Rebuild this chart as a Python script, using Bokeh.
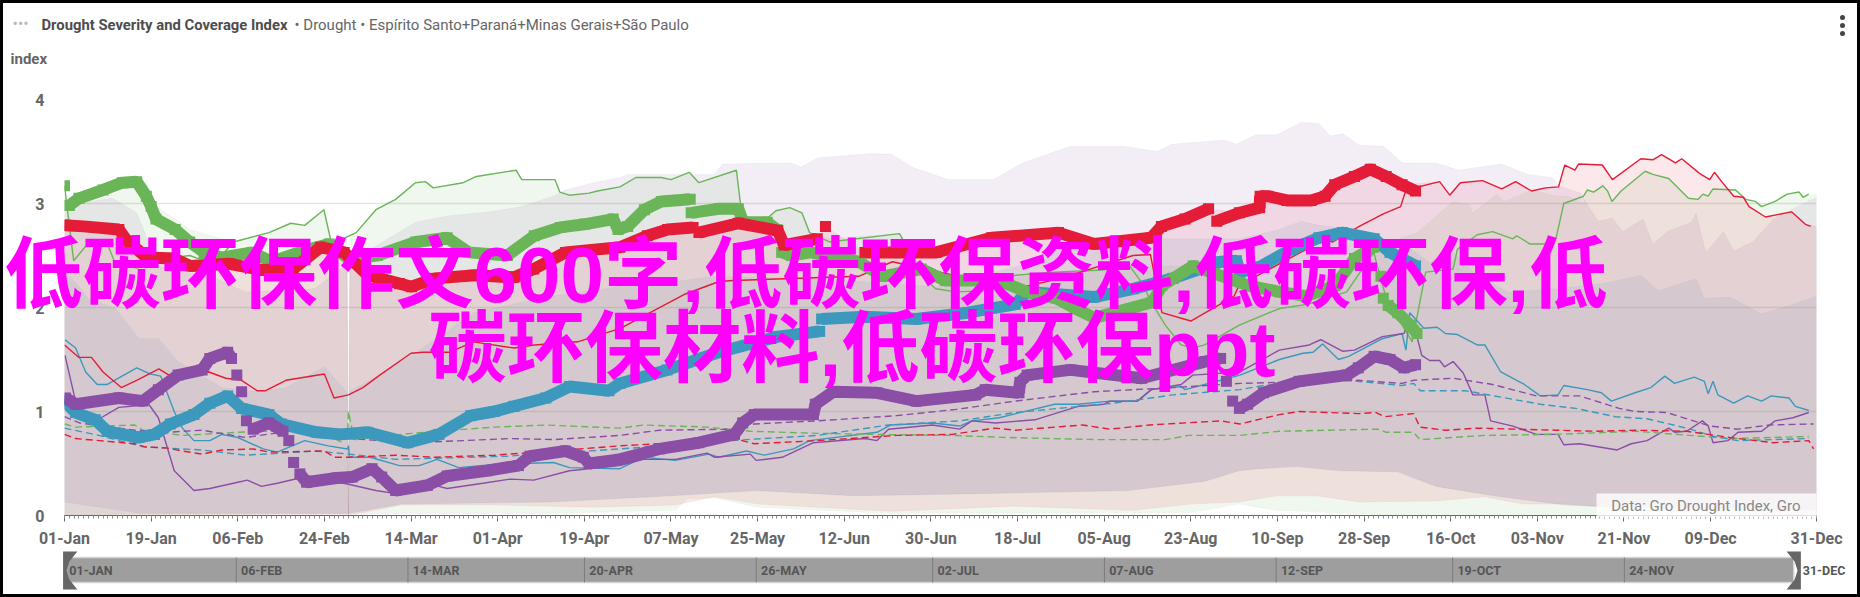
from bokeh.plotting import figure
from bokeh.models import FixedTicker, Range1d
from bokeh.core.properties import value
from bokeh.layouts import column
from bokeh.embed import file_html
from bokeh.resources import INLINE

nan = float("nan")

TITLE_BOLD = "Drought Severity and Coverage Index"
TITLE_REST = "• Drought • Espírito Santo+Paraná+Minas Gerais+São Paulo"
Y_TITLE = "index"
CREDIT = "Data: Gro Drought Index, Gro"
WATERMARK_1 = "低碳环保作文600字,低碳环保资料,低碳环保,低"
WATERMARK_2 = "碳环保材料,低碳环保ppt"

tick_days = [0, 18, 36, 54, 72, 90, 108, 126, 144, 162, 180, 198, 216, 234, 252, 270, 288, 306, 324, 342, 364]
tick_labels = ["01-Jan", "19-Jan", "06-Feb", "24-Feb", "14-Mar", "01-Apr", "19-Apr", "07-May", "25-May", "12-Jun", "30-Jun",
               "18-Jul", "05-Aug", "23-Aug", "10-Sep", "28-Sep", "16-Oct", "03-Nov", "21-Nov", "09-Dec", "31-Dec"]
nav_days = [0, 36, 72, 109, 145, 182, 218, 254, 291, 327]
nav_labels = ["01-JAN", "06-FEB", "14-MAR", "20-APR", "26-MAY", "02-JUL", "07-AUG", "12-SEP", "19-OCT", "24-NOV"]
nav_last = "31-DEC"

# thin solid (previous year)
green_x = [0,1.9,4.8,8.9,10.5,15,21,26,27.8,32.3,35.1,42.5,47,49.9,53.9,55.5,60.6,64.7,68.8,72.9,75,76.6,82.8,85.6,93.8,95,101.9,102.9,104.9,109,110.7,115.4,118.7,124,126,129.8,131.8,139.6,140.9,145.8,147.8,150.7,153.2,154.8,158.9,173.5,178.6,181,185.2,190.9,195.9,197.5,205.7,215.6,221.3,223.8,225.4,226.2,228.7,232,234.4,236.9,244.1,252.4,258.2,266.4,272,274.6,280,282.8,288.5,289.4,293.5,296.7,300.9,301.7,304.5,307.4,309.9,311.5,315.6,316.4,317.7,319.6,320.6,321.5,323.4,328.4,330,333.3,337.4,339.4,340.4,341.5,342.5,347.2,349.3,351.3,352.6,355.4,357.9,360.4,361.2,362.4]
green_y = [3.17,2.45,2.61,2.61,2.43,2.38,2.47,2.5,2.47,2.48,2.63,2.72,2.81,2.79,2.94,2.61,2.72,2.94,3.04,3.2,3.21,3.15,3.2,3.26,3.32,3.23,3.23,3.11,3.08,3.1,3.12,3.16,3.25,3.25,3.23,3.3,3.2,3.32,2.82,2.85,2.93,2.96,2.91,2.72,2.63,2.71,2.28,2.18,2.15,2.16,2.26,2.31,2.34,2.36,2.4,2.24,2.09,2.02,1.83,1.64,1.61,1.64,1.83,1.99,2.03,2.15,2.53,2.09,1.67,2.34,2.37,2.56,2.7,2.73,2.66,2.69,2.61,2.61,2.67,3.0,3.07,3.13,3.11,3.17,3.12,3.02,3.12,3.31,3.28,3.24,3.05,3.04,3.09,3.07,3.14,3.13,3.04,3.02,2.97,3.02,3.09,3.11,3.06,3.09]

red_x = [0,3,5.6,8,11.8,15,19.6,21.7,30,33.5,36.8,40,41.8,46,54,56,59,62,65.5,72,74.5,80,85,93.4,97.6,106.6,115.5,129,136,139,165,172,197.5,207,222,225.6,228,234,243,244,258,260.6,263.5,269,274,277.6,278.7,285.7,287.8,290,294.6,298.6,301.5,304.8,307.7,310.4,311.7,313.8,314.6,319.5,321.6,327.5,330,331.8,334.7,336,339.7,341.8,342.8,344.3,346.8,348.8,350,353.4,358.8,361.7,362.8]
red_y = [1.64,1.52,1.52,1.38,1.23,1.3,1.41,1.35,1.38,1.32,1.3,1.2,1.2,1.3,1.36,1.13,1.16,1.23,1.35,1.56,1.57,1.57,1.67,1.61,1.64,1.67,1.8,2.13,2.25,2.26,2.3,2.44,2.18,2.28,2.5,2.51,1.95,1.87,2.11,2.21,2.56,2.67,2.63,2.78,2.9,2.97,3.13,3.21,3.08,3.2,3.22,3.14,3.21,3.12,3.15,3.16,3.37,3.32,3.38,3.37,3.23,3.43,3.42,3.47,3.39,3.43,3.29,3.23,3.3,3.21,3.07,3.06,2.97,2.87,2.92,2.8,2.78]

blue_x = [0.1,2.3,4.4,6.8,8.9,15,17.9,20,22.8,24.5,26.9,30.2,32.7,36,41.3,44.2,49.9,54.8,58.8,59,59.2,63.5,69.6,73.7,77.4,81.9,89.3,101.6,104.9,115.4,120.3,126.9,133.9,135.9,141.7,145.4,151.5,154.8,168.8,171.6,180.3,186,188.5,194.2,205.7,210.6,217.2,222.9,225.8,232,232.8,240.2,244.2,252.4,257.3,259.4,261.4,264.7,266.8,273.8,277.9,278.7,279.5,282.4,285.2,286.9,289.4,293.5,295.1,298.4,303.3,306.6,310.3,311.5,316.4,319.3,321.4,326.3,329.6,332.5,334.5,338.6,340.7,341.5,342.5,343.5,346.8,349.7,352.6,354.6,358.3,359.6,362.4]
blue_y = [1.69,1.61,1.38,1.26,1.26,1.42,1.36,1.34,1.0,.84,.72,.72,.78,.75,.64,.61,.72,.67,.64,.67,.56,.56,.48,.48,.54,.46,.49,.51,.46,.45,.56,.53,.59,.56,.62,.58,.64,.72,.8,.87,.89,.86,.91,.94,1.07,1.07,1.1,1.1,1.21,1.24,1.21,1.3,1.35,1.5,1.56,1.57,1.65,1.5,1.53,1.7,1.75,1.59,1.95,1.8,1.81,1.75,1.74,1.64,1.64,1.38,1.26,1.15,1.16,1.25,1.21,1.18,1.1,1.18,1.23,1.34,1.27,1.33,1.29,1.17,1.29,1.16,1.08,1.15,1.1,1.15,1.13,1.05,1.01]

purple_x = [0.1,2.3,3.9,6,7.6,11.3,13.8,17.5,19.5,22.8,26.9,30.2,36,38,40.9,44.2,50.7,59,64.7,68.8,77,79.5,86.9,92.6,97.5,104.9,115.4,120.3,126.9,133.5,135.1,142.5,143.7,149.1,155.6,166.3,168.8,171.2,180.3,186,188.5,193.4,201.6,210.6,216,217.2,222.9,225.8,232,234.4,244.2,252.4,258.6,261,265.5,268,273.8,278.3,279.5,280.7,282,283.6,285.7,286.7,288.5,290.6,292.6,295.1,296.3,300.9,305.8,310.3,311.5,314.8,322.6,325.5,328.8,333.3,334.5,337,340.3,341.5,342.5,345.6,347.7,352.6,355.4,359.1,362.4]
purple_y = [1.54,1.1,.99,.94,.94,1.04,1.05,1.07,.94,.43,.24,.26,.32,.34,.28,.31,.38,.3,.24,.21,.29,.26,.31,.35,.34,.43,.48,.54,.54,.6,.56,.59,.53,.56,.7,.74,.72,.83,.87,.83,.91,.89,.92,1.05,1.07,1.1,1.1,1.21,1.26,1.35,1.38,1.59,1.64,1.69,1.58,1.59,1.72,1.75,1.89,1.77,1.54,1.49,1.49,1.43,1.48,1.37,1.16,1.16,.91,.86,.78,.78,.68,.69,.63,.69,.72,.84,.8,.81,.91,.86,.7,.72,.8,.81,.91,.94,.99]

# dashed (average)
red_dash_x = [0,2.3,7.2,14.6,16.7,21.2,24.5,28.6,32.7,39.2,42.5,54,56.1,59,68.8,77,89.3,101.6,115.4,140,143.3,156.4,172.9,184.4,193.4,197.5,211.5,217.2,225.4,240.2,244.2,252.4,256.5,268.8,272.5,274.2,280.3,281.6,286.9,293.5,309.9,318.1,326.3,337,346,355,362.4,363.4]
red_dash_y = [.78,.74,.72,.69,.66,.65,.62,.59,.63,.64,.61,.62,.56,.56,.58,.56,.58,.62,.67,.73,.69,.72,.77,.78,.84,.82,.87,.83,.87,.91,.88,.97,1.0,.98,.99,.95,.98,.85,.82,.84,.82,.81,.82,.81,.75,.7,.72,.64]
green_dash_x = [0,2.3,14.6,16.3,24.5,40,53.2,57.3,58.8,59,60.2,72.1,89.3,100,115.4,120.3,133.5,142.5,156.4,167.9,184.4,195.9,213.9,228.7,233.6,244.2,252.4,272.9,274.6,280.3,281.6,295.1,309.9,326.3,337.8,346.8,362.4]
green_dash_y = [.88,.85,.87,.82,.77,.81,.81,.71,.74,1.0,.73,.79,.85,.87,.84,.87,.85,.81,.79,.78,.77,.75,.73,.73,.77,.77,.81,.83,.8,.8,.73,.77,.78,.81,.77,.74,.76]
blue_dash_x = [0,7.2,16.3,28.6,37.6,52.4,59,68.8,91.8,115.4,141.7,156.4,171.2,186,197.5,218,230.3,244.2,249.1,266.4,277.9,280.3,281.7,291,306.6,314,322.2,328.8,337,342.7,347.6,362.4]
blue_dash_y = [.84,.77,.66,.63,.58,.62,.59,.54,.57,.64,.73,.77,.87,.91,.99,1.08,1.16,1.21,1.25,1.3,1.25,1.27,1.2,1.2,1.07,1.03,.95,.93,.84,.76,.72,.74]
purple_dash_x = [0,3.1,14.6,21.2,28.6,37.6,46.6,59,72.1,82.8,92.6,101.6,115.4,123.6,138.4,143.3,156.4,172.9,185.2,197.5,213.9,230.3,244.2,252.4,268.8,277.9,280.3,288.5,296.7,305.8,314.8,323,326.3,332.9,341.9,347.6,354.2,363.4]
purple_dash_y = [.95,.89,.82,.8,.82,.75,.81,.74,.7,.72,.74,.73,.77,.82,.83,.88,.91,.96,1.02,1.1,1.19,1.23,1.27,1.28,1.3,1.27,1.3,1.32,1.26,1.15,1.15,1.03,1.0,.99,.86,.83,.87,.88]

# thick (current year)
green_cur_x = [0,0.5,1,3,8,12,15,17,18,19,23,26,29,32.6,39,43,50.7,55,59,65,73,79.5,84,92,97.6,103,108,114,115,117,120.5,124,130,130.1,130.2,136,140,141,146,148,148.5,149,151,155,165,170,178,183,194,200,206,210,214,226,228,234.5,246,252.5,258,264,268,272,272.5,273.5,273.7,274,274.5,275,277,279.6,281]
green_cur_y = [3.17,nan,2.98,3.05,3.13,3.2,3.21,3.07,2.97,2.85,2.75,2.63,2.53,2.48,2.53,2.44,2.56,2.61,2.47,2.5,2.63,2.67,2.53,2.5,2.69,2.77,2.8,2.85,2.75,2.78,2.94,3.02,3.04,nan,2.91,2.95,2.95,2.82,2.82,2.75,nan,2.53,2.5,2.53,2.44,2.3,2.37,2.26,2.26,2.15,2.09,1.99,1.9,2.05,2.21,2.4,2.21,2.15,2.11,2.21,2.47,2.58,nan,2.3,nan,2.09,nan,2.02,1.95,1.83,1.75]

red_cur_x = [0,4,11.3,13,17.1,22.8,26.1,34.3,40.9,47.5,53.2,58.1,63,69.6,72.1,77,85.2,93.4,97.5,104.1,115.4,121.1,125.3,130.6,131.2,131.8,140,148.2,149.5,156.4,157.2,158.1,158.8,166.3,181.1,192.6,206.5,213.9,225.8,227.9,232.8,237.7,238.5,239.4,244.1,248.3,248.4,250,254,259,261.9,263.9,268,271.3,274.6,277.9,280.7]
red_cur_y = [2.79,2.78,2.75,2.64,2.48,2.47,2.4,2.42,2.36,2.37,2.58,2.53,2.31,2.23,2.2,2.28,2.31,2.29,2.37,2.53,2.58,2.69,2.75,2.77,nan,2.72,2.81,2.74,2.6,2.66,nan,2.78,nan,2.53,2.53,2.67,2.72,2.61,2.67,2.78,2.85,2.95,nan,2.83,2.91,2.96,3.07,3.07,3.03,3.03,3.07,3.18,3.26,3.33,3.26,3.18,3.12]

blue_cur_x = [0,2.3,6.4,8.9,15.4,18.7,22,26.9,30.2,33.9,36.8,42.5,45,52.4,57.3,63,71.3,77.8,84.4,89.3,93.4,100,104.9,113.1,115.4,125.2,135.9,148.2,156.9,157.1,157.3,166.3,177,187.6,197.5,200,213.9,222.1,230.3,240.2,243.5,244.2,248.3,254.9,260.6,265.5,272.1,275.4,280.7]
blue_cur_y = [1.1,.99,.92,.81,.75,.78,.88,.97,1.08,1.15,1.03,.97,.88,.8,.78,.8,.7,.78,.96,1.0,1.05,1.13,1.24,1.2,1.27,1.4,1.57,1.72,1.77,nan,1.89,1.91,1.89,1.95,2.03,2.15,2.1,2.18,2.28,2.44,2.45,2.34,2.39,2.56,2.67,2.72,2.66,2.53,2.4]

purple_cur_x = [0.2,2.3,11.3,16.3,19.5,23.6,28.6,30.2,33.9,34.7,35.2,35.8,36.3,36.8,37.3,37.8,38.5,39.2,42.5,45.4,46,46.6,47.1,47.6,48.2,48.9,50.3,56.5,59.8,63.9,65.9,68.8,75.4,79.5,87.7,94.3,96.7,104.1,107.8,109,115.4,123.6,131.8,139.2,140.9,143.3,155.6,156,159.7,168.8,177,189.3,191.3,198.3,198.5,200,209,223.8,236.9,240.2,240.8,241.4,242,242.7,243.4,244.1,245.8,249.1,256.5,266.4,268.8,272.1,275.4,278.3,280.7]
purple_cur_y = [1.13,1.07,1.13,1.1,1.21,1.35,1.4,1.51,1.57,1.51,nan,1.35,nan,1.19,nan,.91,nan,.83,.89,.81,nan,.72,nan,.51,nan,.4,.32,.36,.37,.45,.37,.24,.29,.38,.43,.48,.57,.62,.56,.5,.54,.64,.7,.78,.89,.97,.97,1.07,1.19,1.18,1.1,1.16,1.21,1.18,1.28,1.35,1.4,1.32,1.48,1.51,nan,1.29,nan,1.1,nan,1.03,1.07,1.18,1.29,1.35,1.42,1.53,1.5,1.42,1.45]

# range bands
band_purple_x = [0,10,15,19.5,32,37.6,52,58,58.7,59,59.3,64.6,73,79.5,88.5,95,101.6,104,110,115.5,117,135,136.7,151,153,156.6,168,172,176,183.6,193,199,209,220,227,230,241,243.5,247.5,252,257,260.6,263,265.6,269,274,278,285,289.6,298.6,304,309,311,315,316.6,318.7,321.6,323.7,328,330,333,338,339,341,344.7,346.8,351,355,359.6,364]
band_purple_y = [2.98,3.05,2.91,2.4,2.27,2.15,2.18,2.4,2.42,0,2.43,2.59,2.82,2.88,2.92,2.97,3.07,3.13,3.2,3.25,3.28,3.28,3.38,3.39,3.35,3.44,3.48,3.47,3.35,3.23,3.23,3.39,3.55,3.55,3.5,3.57,3.61,3.57,3.66,3.66,3.78,3.77,3.65,3.67,3.56,3.55,3.39,3.39,3.32,3.38,3.28,3.25,3.16,3.1,2.97,2.83,2.86,2.73,2.85,2.61,2.73,2.82,2.91,2.53,2.73,2.54,2.64,2.85,2.96,3.06]
band_purple_low_x = [0,16,59,70,101,126,144,164,189,221,237,244,248,256,265,277,285,297,312,318,364]
band_purple_low_y = [.13,.02,.02,.11,.13,.19,.24,.19,.21,.24,.33,.43,.45,.47,.43,.42,.28,.19,.1,.09,.05]

band_blue_x = [0,3.1,4.8,10.6,15.5,19.6,23.6,32.7,40,46,54,58.7,59,59.3,65.5,73,85,100,115,120.3,135,156.4,181,198.3,212.3,226.2,244.2,252.4,256.9,260.6,268,273.8,278.7,283.6,288.5,293.5,300,309.9,319.7,327.5,331.2,339,340.7,346,352.6,359.1,364]
band_blue_y = [2.35,2.2,2.09,1.99,1.7,1.7,1.48,1.23,1.19,1.23,1.43,1.19,0,1.2,1.35,1.57,1.95,2.1,2.2,2.21,2.3,2.28,2.2,2.4,2.66,2.66,2.66,2.75,2.83,2.79,2.75,2.66,2.6,2.43,2.53,2.31,2.15,2.18,2.23,2.31,2.16,2.28,2.09,2.1,1.94,2.03,2.11]
band_blue_low_x = [0,16,59,70,101,126,144,164,189,221,237,244,248,256,265,277,285,297,312,318,364]
band_blue_low_y = [0,.02,.02,.11,.13,.19,.24,.19,.21,.24,.33,.43,.45,.47,.43,.42,.28,.19,.1,.09,.05]

band_red_x = [0,4,11.3,13,17.1,22.8,26.1,34.3,40.9,47.5,53.2,58.1,58.7,59,59.3,63,69.6,72.1,77,85.2,93.4,97.5,104.1,115.4,125.3,130.6,140,148.2,149.5,156.4,158.1,166.3,181.1,192.6,206.5,213.9,225.8,232.8,237.7,244.1,250,259,263.9,268,271.3,274.6,277.9,285.7,287.8,290,294.6,298.6,301.5,304.8,307.7,310.4,311.7,313.8,314.6,319.5,321.6,327.5,330,331.8,334.7,336,339.7,341.8,342.8,344.3,346.8,348.8,350,353.4,358.8,361.7,364]
band_red_y = [2.79,2.78,2.75,2.64,2.48,2.47,2.4,2.42,2.36,2.37,2.58,2.53,2.52,0,2.5,2.31,2.23,2.2,2.28,2.31,2.29,2.37,2.53,2.58,2.75,2.77,2.81,2.74,2.6,2.66,2.78,2.53,2.53,2.67,2.72,2.61,2.67,2.85,2.95,2.91,3.07,3.03,3.18,3.26,3.33,3.26,3.18,3.21,3.08,3.2,3.22,3.14,3.21,3.12,3.15,3.16,3.37,3.32,3.38,3.37,3.23,3.43,3.42,3.47,3.39,3.43,3.29,3.23,3.3,3.21,3.07,3.06,2.97,2.87,2.92,2.8,2.78]
band_red_low_x = [0,59,70,90,110,127,135,144,172,197,222,234,244,252,260,269,285,295,303,312,330,364]
band_red_low_y = [0,0,.1,.1,.08,.1,.18,.11,.04,.09,.05,.11,.13,.19,.19,.13,.14,.18,.11,.11,.04,0]

band_green_x = [0,1,8,12,15,17,18,19,23,26,35.1,42.5,47,49.9,53.9,55.5,58.7,59,59.3,60.6,64.7,68.8,72.9,75,76.6,82.8,85.6,93.8,95,101.9,102.9,104.9,109,110.7,115.4,118.7,124,126,129.8,131.8,139.6,140.9,145.8,147.8,150.7,153.2,154.8,158.9,173.5,178.6,183,194,206,214,226,234.5,246,258,268,272,281.1,288.5,291.8,292.6,297.6,299.2,305,309.9,312.3,315.6,316.4,317.7,319.6,320.6,321.5,323.4,328.4,330,333.3,337.4,339.4,340.4,341.5,342.5,347.2,349.3,351.3,352.6,355.4,357.9,360.4,361.2,364]
band_green_y = [3.17,2.98,3.05,3.13,3.2,3.21,3.07,2.97,2.85,2.75,2.63,2.72,2.81,2.79,2.94,2.61,2.68,0,2.7,2.72,2.94,3.04,3.2,3.21,3.15,3.2,3.26,3.32,3.23,3.23,3.11,3.08,3.1,3.12,3.16,3.25,3.25,3.23,3.3,3.2,3.32,2.82,2.85,2.93,2.96,2.91,2.72,2.66,2.71,2.37,2.26,2.26,2.34,2.36,2.4,2.4,2.21,2.11,2.47,2.58,2.72,3.02,2.99,2.91,3.09,3.02,3.13,3.07,3.07,3.0,3.13,3.11,3.17,3.12,3.02,3.12,3.31,3.28,3.24,3.05,3.04,3.09,3.07,3.14,3.13,3.04,3.02,2.97,3.02,3.09,3.11,3.06,3.09]
band_green_low_x = [0,70,100,127,129.5,135,144,172,234,244,252,277,364]
band_green_low_y = [0,.02,.02,.05,.16,.17,.08,.02,.03,.11,.05,0,0]

GREEN, RED, BLUE, PURPLE = "#6ab558", "#e41c38", "#3c98bc", "#8b4ea6"
W = 1860
H = 597
H_MAIN = 550
H_NAV = H - H_MAIN
ROBOTO = "Roboto"

p = figure(width=W, height=H_MAIN, output_backend="svg", toolbar_location=None, frame_align=False,
           x_range=Range1d(0, 364), y_range=Range1d(0, 4),
           min_border_left=64, min_border_right=44, min_border_top=99, min_border_bottom=0)
p.outline_line_color = None
p.xgrid.visible = False
p.ygrid.ticker = FixedTicker(ticks=[0, 1, 2, 3, 4])
p.ygrid.grid_line_color = "#e4e4e4"
p.ygrid.grid_line_width = 1.5

p.yaxis.ticker = FixedTicker(ticks=[0, 1, 2, 3, 4])
p.yaxis.axis_line_color = None
p.yaxis.major_tick_line_color = None
p.yaxis.minor_tick_line_color = None
p.yaxis.major_label_standoff = 14
p.yaxis.major_label_text_font = ROBOTO
p.yaxis.major_label_text_font_size = "16px"
p.yaxis.major_label_text_font_style = "bold"
p.yaxis.major_label_text_color = "#666666"

p.xaxis.ticker = FixedTicker(ticks=tick_days, minor_ticks=list(range(0, 365)))
p.xaxis.major_label_overrides = dict(zip(tick_days, tick_labels))
p.xaxis.axis_line_color = "#666666"
p.xaxis.major_tick_line_color = "#666666"
p.xaxis.minor_tick_line_color = "#888888"
p.xaxis.major_tick_in = 0
p.xaxis.major_tick_out = 6
p.xaxis.minor_tick_in = 0
p.xaxis.minor_tick_out = 3
p.xaxis.major_label_standoff = 7
p.xaxis.major_label_text_font = ROBOTO
p.xaxis.major_label_text_font_size = "16px"
p.xaxis.major_label_text_font_style = "bold"
p.xaxis.major_label_text_color = "#666666"

bands = [(band_purple_x, band_purple_y, band_purple_low_x, band_purple_low_y, PURPLE),
         (band_blue_x, band_blue_y, band_blue_low_x, band_blue_low_y, BLUE),
         (band_green_x, band_green_y, band_green_low_x, band_green_low_y, GREEN),
         (band_red_x, band_red_y, band_red_low_x, band_red_low_y, RED)]
for ux, uy, lx, ly, c in bands:
    p.patch(ux + lx[::-1], uy + ly[::-1], fill_color=c, fill_alpha=0.1, line_color=c, line_alpha=0.05)

for x, y, c in [(green_x, green_y, GREEN), (blue_x, blue_y, BLUE), (purple_x, purple_y, PURPLE), (red_x, red_y, RED)]:
    p.line(x, y, line_color=c, line_width=1.4)
for x, y, c in [(green_dash_x, green_dash_y, GREEN), (blue_dash_x, blue_dash_y, BLUE),
                (purple_dash_x, purple_dash_y, PURPLE), (red_dash_x, red_dash_y, RED)]:
    p.line(x, y, line_color=c, line_width=1.4, line_dash="7 4")
for x, y, c in [(blue_cur_x, blue_cur_y, BLUE), (green_cur_x, green_cur_y, GREEN),
                (red_cur_x, red_cur_y, RED), (purple_cur_x, purple_cur_y, PURPLE)]:
    p.line(x, y, line_color=c, line_width=12, line_cap="butt")
    p.scatter(x, y, marker="square", size=11, fill_color=c, line_color=None)

# navigator strip
nav = figure(width=W, height=H_NAV, output_backend="svg", toolbar_location=None, frame_align=False,
             x_axis_location=None, y_axis_location=None,
             x_range=Range1d(-13.42, 376.5), y_range=Range1d(46, -1),
             min_border_left=0, min_border_right=0, min_border_top=0, min_border_bottom=0)
nav.grid.visible = False
nav.outline_line_color = None
nav.quad(left=0, right=362.5, top=6, bottom=31, fill_color="#9e9e9e", line_color="#d4d4d4", line_width=1.5)
nav.segment(nav_days[1:], [6] * 9, nav_days[1:], [31] * 9, line_color="#7d7d7d", line_width=1)
nav.text(x=[d + 1 for d in nav_days], y=[19] * len(nav_days), text=nav_labels, text_color="#555555",
         text_font=value(ROBOTO), text_font_size="12.5px", text_font_style="bold", text_baseline="middle")
nav.text(x=[364.4], y=[19], text=[nav_last], text_color="#555555", text_font=value(ROBOTO), text_font_size="12.5px",
         text_font_style="bold", text_baseline="middle")
nav.patch([-0.3, 2.7, 1.0, 0.4, 1.0, 2.7, -0.3], [0, 0, 10, 19, 28, 38, 38], fill_color="#666666", line_color=None)
nav.patch([364, 361, 362.7, 363.3, 362.7, 361, 364], [0, 0, 10, 19, 28, 38, 38], fill_color="#666666", line_color=None)

# page-wide overlay: header texts, source note, watermark, frame
top = figure(width=W, height=H, output_backend="svg", toolbar_location=None, frame_align=False,
             x_axis_location=None, y_axis_location=None,
             x_range=Range1d(0, W), y_range=Range1d(H, 0),
             min_border_left=0, min_border_right=0, min_border_top=0, min_border_bottom=0,
             background_fill_color=None, border_fill_color=None,
             margin=(-H, 0, 0, 0), styles={"outline": "3px solid black", "outline-offset": "-3px"})
top.grid.visible = False
top.outline_line_color = None

def put(text, x, y, size, color, style="normal", align="left", font=ROBOTO):
    top.text(x=[x], y=[y], text=[text], text_font=value(font), text_font_size=size, text_color=color,
             text_font_style=style, text_align=align, text_baseline="middle")

put("•••", 12, 23, "16px", "#bbbbbb")
put(TITLE_BOLD, 41, 24, "14.8px", "#4d4d4d", "bold")
put(TITLE_REST, 294, 24, "15px", "#666666")
put(Y_TITLE, 10, 58, "15px", "#666666", "bold")
top.scatter([1842, 1842, 1842], [17, 25, 33], marker="circle", size=5, fill_color="#444444", line_color=None)
top.quad(left=1596, right=1816, top=493, bottom=517, fill_color="white", fill_alpha=0.8, line_color=None)
put(CREDIT, 1800, 505, "15px", "#888888", align="right")
WM_FONT = "'Liberation Sans', 'Noto Sans CJK SC'"
put(WATERMARK_1, 4, 274, "78.2px", "#ff00ff", "bold", font=WM_FONT)
put(WATERMARK_2, 428, 348, "78.2px", "#ff00ff", "bold", font=WM_FONT)

page = column(p, nav, top, spacing=0)
open("out.html", "w").write(file_html(page, INLINE))
